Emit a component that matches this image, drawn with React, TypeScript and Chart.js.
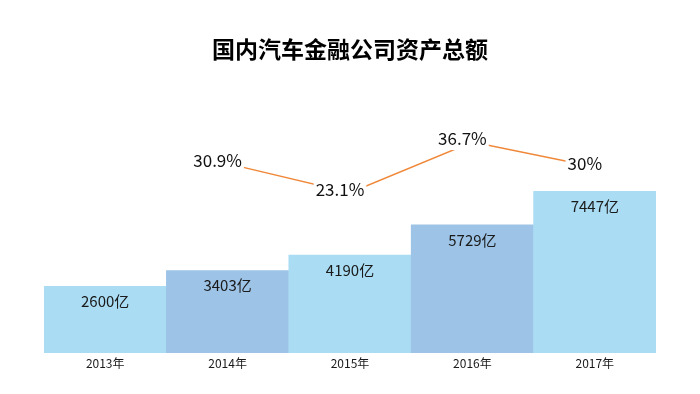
import React, { useEffect, useRef } from "react";
import { Chart, registerables } from "chart.js";

Chart.register(...registerables);

const years = ["2013年", "2014年", "2015年", "2016年", "2017年"];
const assets = [2600, 3403, 4190, 5729, 7447];
const growth = [null, 30.9, 23.1, 36.7, 30];
const chartTitle = "国内汽车金融公司资产总额";

const FONT = '"Noto Sans CJK SC", "Noto Sans", sans-serif';

const labelPlugin = {
  id: "valueLabels",
  afterDatasetsDraw(chart: any) {
    const ctx = chart.ctx;
    ctx.save();
    // bar labels
    const barMeta = chart.getDatasetMeta(1);
    ctx.font = `15px ${FONT}`;
    ctx.fillStyle = "#1a1a1a";
    ctx.textAlign = "center";
    ctx.textBaseline = "middle";
    barMeta.data.forEach((el: any, i: number) => {
      ctx.fillText(`${assets[i]}亿`, el.x, el.y + 15);
    });
    // growth labels
    const lineMeta = chart.getDatasetMeta(0);
    ctx.font = `17px ${FONT}`;
    lineMeta.data.forEach((el: any, i: number) => {
      const v = growth[i];
      if (v === null || v === undefined) return;
      const txt = `${v}%`;
      const w = ctx.measureText(txt).width;
      const cx = el.x - 10;
      const cy = el.y - 3;
      ctx.fillStyle = "#ffffff";
      ctx.fillRect(cx - w / 2 - 2, cy - 11, w + 4, 22);
      ctx.fillStyle = "#111111";
      ctx.fillText(txt, cx, cy);
    });
    ctx.restore();
  },
};

export default function App() {
  const ref = useRef<HTMLCanvasElement>(null);
  useEffect(() => {
    if (!ref.current) return;
    const chart = new Chart(ref.current, {
      type: "bar",
      data: {
        labels: years,
        datasets: [
          {
            type: "line",
            label: "增速",
            data: growth as any,
            yAxisID: "y2",
            borderColor: "#F0883A",
            borderWidth: 1.5,
            pointRadius: 0,
            tension: 0,
            order: 0,
          } as any,
          {
            type: "bar",
            label: "资产总额",
            data: assets,
            yAxisID: "y",
            base: -800,
            backgroundColor: ["#AADDF4", "#9DC3E6", "#AADDF4", "#9DC3E6", "#AADDF4"],
            borderWidth: 0,
            categoryPercentage: 1,
            barPercentage: 1,
            order: 1,
          } as any,
        ],
      },
      options: {
        responsive: false,
        animation: false,
        devicePixelRatio: 1,
        layout: { padding: { left: 44, right: 44, top: 0, bottom: 20.6 } },
        plugins: {
          legend: { display: false },
          tooltip: { enabled: false },
          title: {
            display: true,
            text: chartTitle,
            color: "#000000",
            font: { family: FONT, size: 23, weight: "bold" },
            padding: { top: 35, bottom: 37.4 },
          },
        },
        scales: {
          x: {
            grid: { display: false, drawTicks: false },
            border: { display: false },
            ticks: { color: "#1a1a1a", font: { family: FONT, size: 12 }, padding: 3 },
          },
          y: { display: false, min: -800, max: 12100 },
          y2: { display: false, min: -20, max: 48 },
        },
      } as any,
      plugins: [labelPlugin],
    });
    return () => chart.destroy();
  }, []);
  return (
    <div style={{ position: "fixed", left: 0, top: 0, width: 700, height: 394, background: "#fff" }}>
      <canvas ref={ref} width={700} height={394} style={{ display: "block" }} />
    </div>
  );
}
